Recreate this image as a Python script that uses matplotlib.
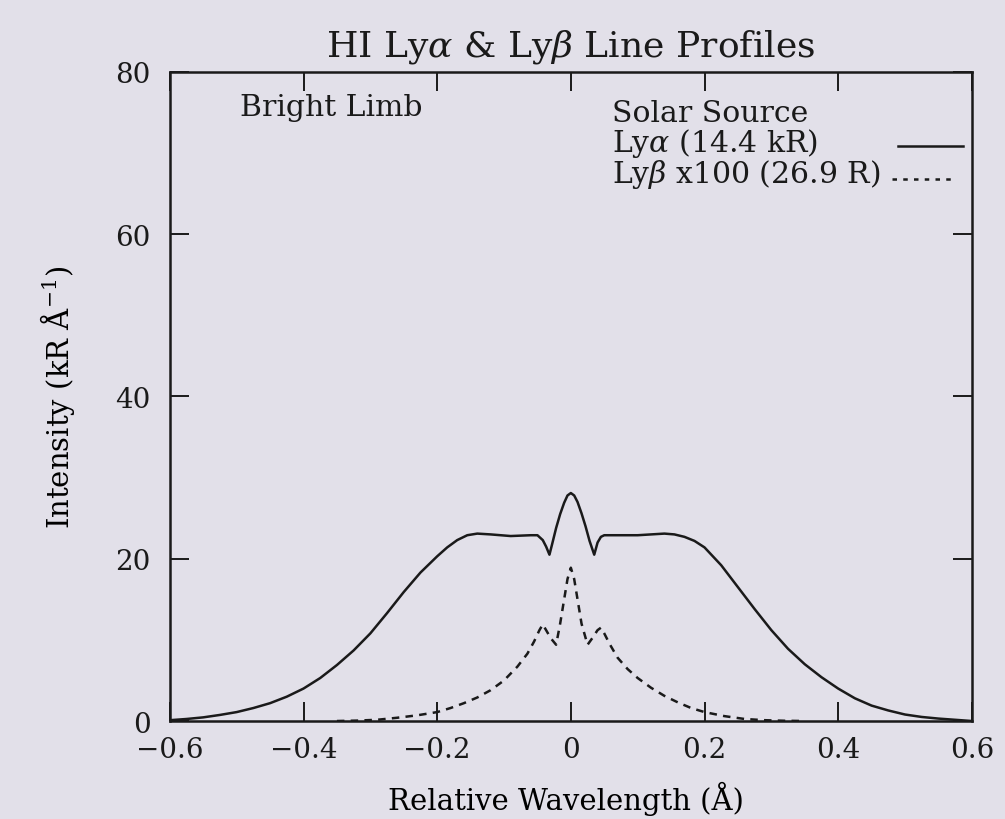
import matplotlib
matplotlib.use("Agg")
import matplotlib.pyplot as plt

# Ly-alpha profile (kR/A)
lya_x = [-0.600, -0.575, -0.550, -0.525, -0.500, -0.475, -0.450, -0.425, -0.400, -0.375,
         -0.350, -0.325, -0.300, -0.275, -0.250, -0.225, -0.200, -0.185, -0.170, -0.155,
         -0.140, -0.120, -0.090, -0.060, -0.050, -0.042, -0.037, -0.032, -0.028, -0.022,
         -0.016, -0.010, -0.005, 0.000, 0.005, 0.010, 0.016, 0.022, 0.028, 0.035,
         0.040, 0.045, 0.050, 0.070, 0.100, 0.140, 0.155, 0.170, 0.185, 0.200,
         0.225, 0.250, 0.275, 0.300, 0.325, 0.350, 0.375, 0.400, 0.425, 0.450,
         0.475, 0.500, 0.525, 0.550, 0.575, 0.600]
lya_y = [0.10, 0.25, 0.45, 0.75, 1.1, 1.6, 2.2, 3.0, 4.0, 5.3,
         6.9, 8.7, 10.8, 13.3, 15.9, 18.3, 20.3, 21.4, 22.3, 22.9,
         23.1, 23.0, 22.8, 22.9, 22.9, 22.3, 21.5, 20.5, 21.8, 23.8,
         25.5, 26.9, 27.8, 28.1, 27.8, 27.0, 25.6, 24.0, 22.2, 20.5,
         22.0, 22.7, 22.9, 22.9, 22.9, 23.1, 23.0, 22.7, 22.2, 21.4,
         19.2, 16.5, 13.8, 11.2, 8.9, 7.0, 5.4, 4.0, 2.8, 1.9,
         1.3, 0.8, 0.5, 0.3, 0.15, 0.0]

# Ly-beta profile x100
lyb_x = [-0.350, -0.320, -0.290, -0.260, -0.230, -0.200, -0.180, -0.160, -0.140, -0.120,
         -0.100, -0.080, -0.065, -0.055, -0.047, -0.042, -0.037, -0.030, -0.022, -0.016,
         -0.010, -0.005, 0.000, 0.005, 0.010, 0.016, 0.025, 0.032, 0.040, 0.045,
         0.050, 0.058, 0.070, 0.085, 0.100, 0.120, 0.140, 0.160, 0.180, 0.200,
         0.230, 0.260, 0.290, 0.320, 0.350]
lyb_y = [0.0, 0.05, 0.15, 0.4, 0.7, 1.1, 1.6, 2.2, 2.9, 3.8,
         5.0, 6.7, 8.3, 9.8, 11.2, 11.9, 11.2, 10.2, 9.4, 12.0,
         15.0, 17.5, 18.9, 17.5, 15.0, 12.0, 9.4, 10.2, 11.2, 11.5,
         10.8, 9.5, 7.8, 6.4, 5.3, 4.1, 3.1, 2.3, 1.6, 1.1,
         0.6, 0.25, 0.1, 0.03, 0.0]

x_ticks = [-0.6, -0.4, -0.2, 0, 0.2, 0.4, 0.6]
x_labels = ["\u22120.6", "\u22120.4", "\u22120.2", "0", "0.2", "0.4", "0.6"]
y_ticks = [0, 20, 40, 60, 80]

paper = "#e2e0e9"
ink = "#1a1a1a"

plt.rcParams["font.family"] = "DejaVu Serif"
plt.rcParams["mathtext.fontset"] = "dejavuserif"
plt.rcParams["text.color"] = ink

fig = plt.figure(figsize=(10.05, 8.2), dpi=100, facecolor=paper)
ax = fig.add_axes([0.169, 0.1195, 0.798, 0.7915], facecolor=paper)

ax.plot(lya_x, lya_y, color=ink, lw=1.8)
ax.plot(lyb_x, lyb_y, color=ink, lw=1.8, linestyle=(0, (3, 2.5)))

ax.set_xlim(-0.6, 0.6)
ax.set_ylim(0, 80)
ax.set_xticks(x_ticks)
ax.set_xticklabels(x_labels)
ax.set_yticks(y_ticks)

for s in ax.spines.values():
    s.set_linewidth(1.8)
    s.set_color(ink)
ax.tick_params(direction="in", length=14, width=1.4, colors=ink,
               top=True, right=True, labelsize=20)
ax.tick_params(axis="x", pad=11)
ax.tick_params(axis="y", pad=14)

ax.set_title(r"HI Ly$\alpha$ & Ly$\beta$ Line Profiles", fontsize=26, pad=12)
ax.set_xlabel("Relative Wavelength (\u00c5)", fontsize=21)
ax.set_ylabel(r"Intensity (kR $\mathrm{\AA}^{-1}$)", fontsize=21)
ax.xaxis.set_label_coords(0.494, -0.092)
ax.yaxis.set_label_coords(-0.116, 0.5)

ax.text(0.087, 0.933, "Bright Limb", transform=ax.transAxes, fontsize=21.5, va="baseline")
ax.text(0.551, 0.925, "Solar Source", transform=ax.transAxes, fontsize=21.5, va="baseline")
ax.text(0.551, 0.879, r"Ly$\alpha$ (14.4 kR)", transform=ax.transAxes, fontsize=21.5, va="baseline")
ax.text(0.551, 0.830, r"Ly$\beta$ x100 (26.9 R)", transform=ax.transAxes, fontsize=21.5, va="baseline")
ax.plot([0.908, 0.989], [0.886, 0.886], transform=ax.transAxes, color=ink, lw=1.8)
ax.plot([0.901, 0.979], [0.835, 0.835], transform=ax.transAxes, color=ink, lw=1.8,
        linestyle=(0, (1.8, 2.5)))

fig.savefig("out.png", dpi=100, facecolor=paper)
